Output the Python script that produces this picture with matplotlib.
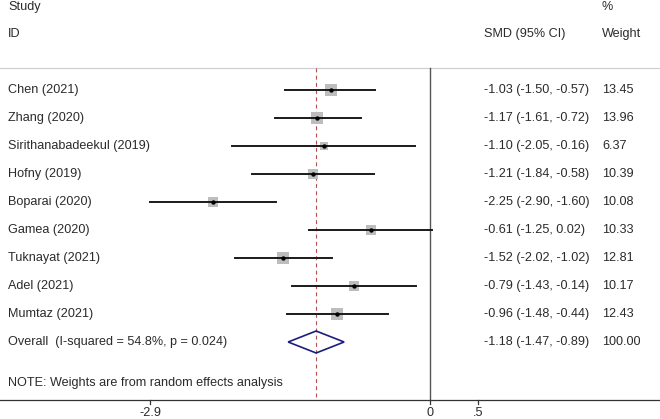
import matplotlib
matplotlib.use("Agg")
import matplotlib.pyplot as plt
import matplotlib.transforms as mtransforms
from matplotlib.patches import Polygon

studies = ["Chen (2021)", "Zhang (2020)", "Sirithanabadeekul (2019)", "Hofny (2019)",
           "Boparai (2020)", "Gamea (2020)", "Tuknayat (2021)", "Adel (2021)", "Mumtaz (2021)"]
smd = [-1.03, -1.17, -1.10, -1.21, -2.25, -0.61, -1.52, -0.79, -0.96]
lower = [-1.50, -1.61, -2.05, -1.84, -2.90, -1.25, -2.02, -1.43, -1.48]
upper = [-0.57, -0.72, -0.16, -0.58, -1.60, 0.02, -1.02, -0.14, -0.44]
weights = [13.45, 13.96, 6.37, 10.39, 10.08, 10.33, 12.81, 10.17, 12.43]
overall_label = "Overall  (I-squared = 54.8%, p = 0.024)"
overall = [-1.18, -1.47, -0.89]
overall_weight = "100.00"
xticks = [-2.9, 0, 0.5]
xticklabels = ["-2.9", "0", ".5"]

plt.rcParams['font.family'] = ['Liberation Sans', 'DejaVu Sans']
fig = plt.figure(figsize=(6.6, 4.19), dpi=100)
ax = fig.add_axes([0, 0, 1, 1])
ax.set_xlim(-430 / 96.5, 230 / 96.5)
ax.set_ylim((419 - 90) / 28, -90 / 28)
ax.axis('off')

fs = 9.1
col = "#2b2b2b"
blend = mtransforms.blended_transform_factory(ax.transAxes, ax.transData)
x_study = 8 / 660
x_smd = 484 / 660
x_w = 602 / 660

# headers
ax.text(x_study, -2.96, "Study", transform=blend, fontsize=fs, va='center', color=col)
ax.text(x_study, -2.0, "ID", transform=blend, fontsize=fs, va='center', color=col)
ax.text(x_w, -2.96, "%", transform=blend, fontsize=fs, va='center', color=col)
ax.text(x_w, -2.0, "Weight", transform=blend, fontsize=fs, va='center', color=col)
ax.text(x_smd, -2.0, "SMD (95% CI)", transform=blend, fontsize=fs, va='center', color=col)

y_top = (68 - 90) / 28
y_axis = (400 - 90) / 28
ax.axhline(y_top, color="#d0d0d0", lw=0.9)
ax.axhline(y_axis, color="#333333", lw=0.9)

# zero line and overall dashed line
ax.plot([0, 0], [y_top, y_axis], color="#555555", lw=1.0)
ax.plot([overall[0], overall[0]], [y_top, y_axis], color="#b5504f", lw=0.8, ls=(0, (3.5, 3)))

for i, name in enumerate(studies):
    ax.plot([lower[i], upper[i]], [i, i], color="#1a1a1a", lw=1.4, zorder=3)
    ax.scatter([smd[i]], [i], marker='s', s=5.5 * weights[i], color="#bdbdbd", zorder=2, linewidths=0)
    ax.scatter([smd[i]], [i], marker='o', s=10, color="black", zorder=4, linewidths=0)
    ax.text(x_study, i, name, transform=blend, fontsize=fs, va='center', color=col)
    ax.text(x_smd, i, f"{smd[i]:.2f} ({lower[i]:.2f}, {upper[i]:.2f})", transform=blend,
            fontsize=fs, va='center', color=col)
    ax.text(x_w, i, f"{weights[i]:.2f}", transform=blend, fontsize=fs, va='center', color=col)

yo = len(studies)
dh = 11 / 28
diamond = Polygon([[overall[1], yo], [overall[0], yo - dh], [overall[2], yo], [overall[0], yo + dh]],
                  closed=True, fill=False, edgecolor="#1c1c80", lw=1.2, zorder=5)
ax.add_patch(diamond)
ax.text(x_study, yo, overall_label, transform=blend, fontsize=fs, va='center', color=col)
ax.text(x_smd, yo, f"{overall[0]:.2f} ({overall[1]:.2f}, {overall[2]:.2f})", transform=blend,
        fontsize=fs, va='center', color=col)
ax.text(x_w, yo, overall_weight, transform=blend, fontsize=fs, va='center', color=col)

ax.text(x_study, (383 - 90) / 28, "NOTE: Weights are from random effects analysis", transform=blend,
        fontsize=fs, va='center', color=col)

# ticks
for t, lab in zip(xticks, xticklabels):
    ax.plot([t, t], [y_axis, y_axis + 4 / 28], color="#333333", lw=0.9)
    ax.text(t, (413 - 90) / 28, lab, ha='center', va='center', fontsize=fs, color=col)

fig.savefig("out.png", dpi=100)
